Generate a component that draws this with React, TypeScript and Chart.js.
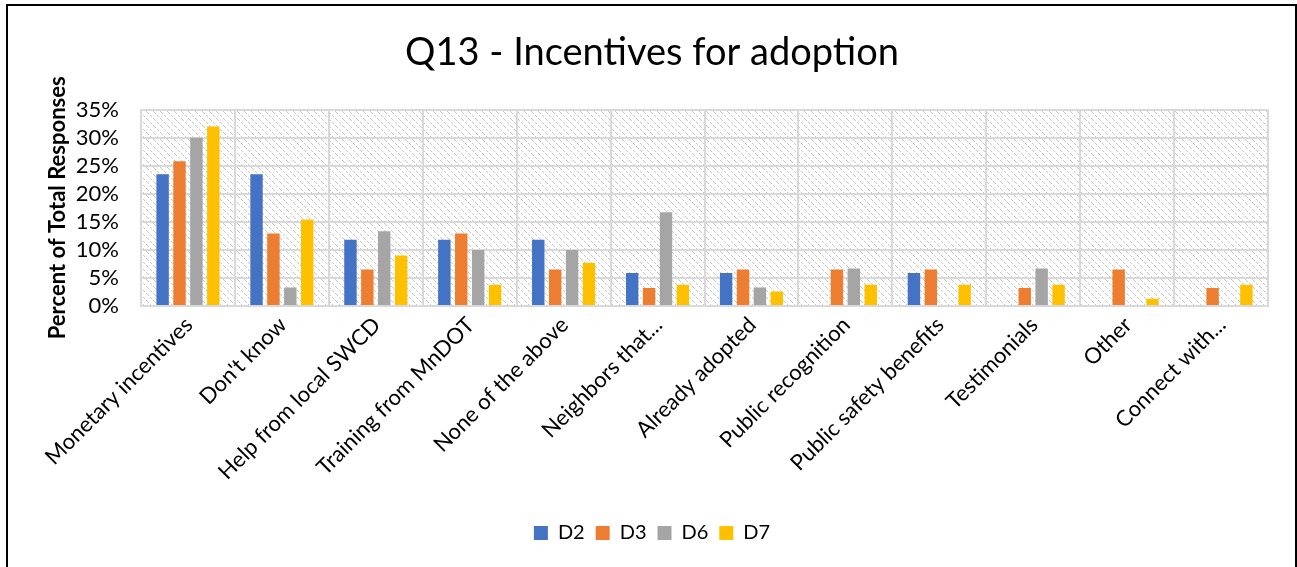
import React, { useEffect, useRef } from "react";
import { Chart, registerables } from "chart.js";

Chart.register(...registerables);

const categories = [
  "Monetary incentives",
  "Don't know",
  "Help from local SWCD",
  "Training from MnDOT",
  "None of the above",
  "Neighbors that...",
  "Already adopted",
  "Public recognition",
  "Public safety benefits",
  "Testimonials",
  "Other",
  "Connect with...",
];

const seriesNames = ["D2", "D3", "D6", "D7"];
const d2Values = [23.5, 23.5, 11.8, 11.8, 11.8, 5.9, 5.9, 0, 5.9, 0, 0, 0];
const d3Values = [25.8, 12.9, 6.5, 12.9, 6.5, 3.2, 6.5, 6.5, 6.5, 3.2, 6.5, 3.2];
const d6Values = [30.0, 3.3, 13.3, 10.0, 10.0, 16.7, 3.3, 6.7, 0, 6.7, 0, 0];
const d7Values = [32.0, 15.4, 9.0, 3.8, 7.7, 3.8, 2.6, 3.8, 3.8, 3.8, 1.3, 3.8];
const seriesColors = ["#4472C4", "#ED7D31", "#A5A5A5", "#FFC000"];

const titleText = "Q13 - Incentives for adoption";
const yAxisTitle = "Percent of Total Responses";
const yMax = 35;
const yStep = 5;

const FONT = "Lato, 'Open Sans', sans-serif";

function makePattern(ctx: CanvasRenderingContext2D) {
  const n = 7;
  const p = document.createElement("canvas");
  p.width = n;
  p.height = n;
  const c = p.getContext("2d")!;
  c.fillStyle = "#ffffff";
  c.fillRect(0, 0, n, n);
  c.fillStyle = "#c8c8c8";
  for (let i = 0; i < n; i++) {
    if (i % 3 !== 2) c.fillRect(i, i, 1, 1);
  }
  return ctx.createPattern(p, "repeat");
}

export default function App() {
  const canvasRef = useRef<HTMLCanvasElement | null>(null);

  useEffect(() => {
    const canvas = canvasRef.current;
    if (!canvas) return;
    const ctx = canvas.getContext("2d")!;
    const pattern = makePattern(ctx);

    const bgPlugin = {
      id: "hatchBg",
      beforeDraw(chart: any) {
        const { ctx: c, chartArea } = chart;
        c.save();
        c.fillStyle = "#ffffff";
        c.fillRect(0, 0, chart.width, chart.height);
        if (pattern) {
          c.fillStyle = pattern;
          c.fillRect(chartArea.left, chartArea.top, chartArea.right - chartArea.left, chartArea.bottom - chartArea.top);
        }
        c.restore();
      },
      afterDraw(chart: any) {
        const c = chart.ctx;
        c.save();
        c.strokeStyle = "#000000";
        c.lineWidth = 2;
        c.beginPath();
        c.moveTo(7, chart.height + 5);
        c.lineTo(7, 5);
        c.lineTo(1296, 5);
        c.lineTo(1296, chart.height + 5);
        c.stroke();
        c.restore();
      },
    };

    const valueSets = [d2Values, d3Values, d6Values, d7Values];

    const chart = new Chart(canvas, {
      type: "bar",
      data: {
        labels: categories,
        datasets: seriesNames.map((name, i) => ({
          label: name,
          data: valueSets[i],
          backgroundColor: seriesColors[i],
          borderWidth: 0,
          barPercentage: 0.735,
          categoryPercentage: 0.72,
        })),
      },
      options: {
        responsive: false,
        animation: false,
        layout: { padding: { left: 36, right: 29, top: 0, bottom: 14 } },
        plugins: {
          title: {
            display: true,
            text: titleText,
            color: "#000000",
            font: { family: FONT, size: 38, weight: "normal" },
            padding: { top: 30, bottom: 34 },
          },
          legend: {
            position: "bottom",
            labels: {
              color: "#000000",
              font: { family: FONT, size: 20 },
              boxWidth: 14,
              boxHeight: 14,
              padding: 11,
            },
          },
          tooltip: { enabled: false },
        },
        scales: {
          x: {
            grid: {
              offset: true,
              color: "#d9d9d9",
              lineWidth: 2,
              drawTicks: false,
            },
            border: { color: "#d9d9d9", width: 2 },
            ticks: {
              color: "#000000",
              font: { family: FONT, size: 22 },
              maxRotation: 45,
              minRotation: 45,
              autoSkip: false,
              padding: 6,
              labelOffset: 1,
            },
            afterFit(scale: any) {
              scale.height = 206;
            },
          },
          y: {
            min: 0,
            max: yMax,
            grid: { color: "#d9d9d9", lineWidth: 2, drawTicks: false },
            border: { color: "#d9d9d9", width: 2 },
            ticks: {
              stepSize: yStep,
              autoSkip: false,
              color: "#000000",
              font: { family: FONT, size: 22, lineHeight: 1 },
              padding: 22,
              callback: (v: any) => `${v}%`,
            },
            title: {
              display: true,
              text: yAxisTitle,
              color: "#000000",
              font: { family: FONT, size: 22, weight: "bold" },
              padding: { top: 9, bottom: 0 },
            },
            afterFit(scale: any) {
              scale.width = 105;
            },
          },
        },
      },
      plugins: [bgPlugin],
    });

    return () => {
      chart.destroy();
    };
  }, []);

  return (
    <div style={{ position: "absolute", left: 0, top: 0, width: 1297, height: 567 }}>
      <canvas ref={canvasRef} width={1297} height={567} />
    </div>
  );
}
